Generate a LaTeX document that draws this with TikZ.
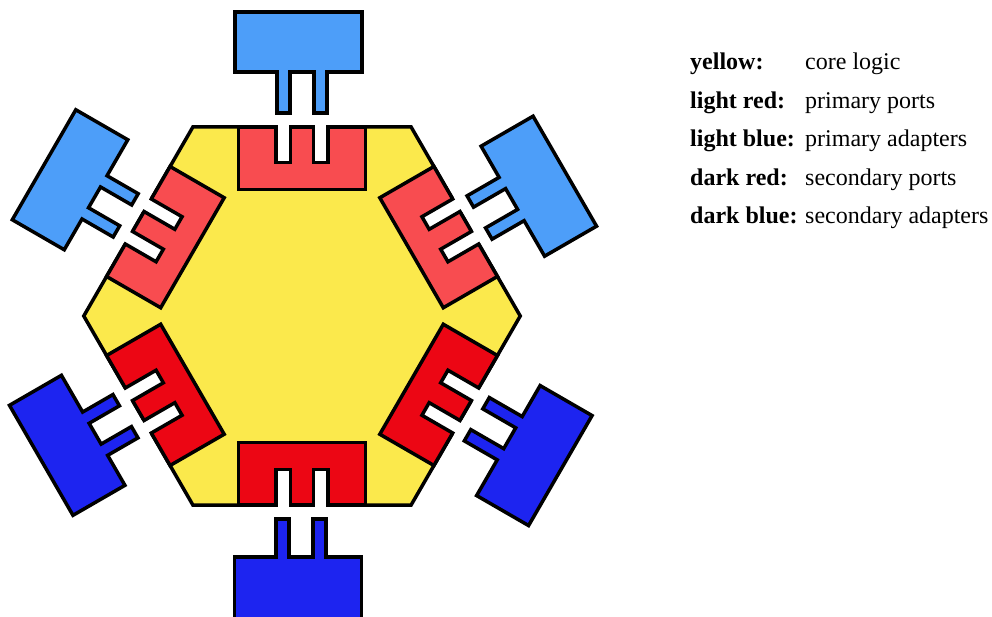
\documentclass[tikz,border=0pt]{standalone}
\usepackage{fontspec}
\usetikzlibrary{calc}
\setmainfont{Liberation Serif}
\definecolor{coreyellow}{RGB}{251,233,76}
\definecolor{lred}{RGB}{248,76,80}
\definecolor{dred}{RGB}{236,6,20}
\definecolor{lblue}{RGB}{77,158,249}
\definecolor{dblue}{RGB}{29,36,240}
\tikzset{
  outline/.style={draw=black, line width=3.5pt, line join=miter},
  labtxt/.style={anchor=base west, inner sep=0pt, font=\fontsize{24}{29}\selectfont\bfseries},
  valtxt/.style={anchor=base west, inner sep=0pt, font=\fontsize{24}{29}\selectfont},
}
\begin{document}
\begin{tikzpicture}[x=1pt,y=1pt]
\useasboundingbox (0,-617) rectangle (992,0);
% core hexagon
\coordinate (c) at (302,-316);
\draw[outline, fill=coreyellow] ($(c)+(0:218.24)$) -- ($(c)+(60:218.24)$) -- ($(c)+(120:218.24)$)
  -- ($(c)+(180:218.24)$) -- ($(c)+(240:218.24)$) -- ($(c)+(300:218.24)$) -- cycle;
% ports and adapters
\foreach \rot/\pc/\ac/\s/\c/\va/\vb in {
   0/lred/lblue/-3.7/0/244/304,
   -60/lred/lblue/6/3.5/240/300,
   -120/dred/dblue/4.7/2/241/301,
   180/dred/dblue/4/1.2/241/306,
   120/dred/dblue/5.4/1.5/238/298,
   60/lred/lblue/2/-1/239/299}{
  \begin{scope}[shift={(302,-316)}, rotate=\rot]
    \fill[white] (-26,153.5) rectangle (-11.5,192);
    \fill[white] (11.5,153.5) rectangle (26,192);
    \draw[outline, fill=\pc] (-63.5,189) -- (-26,189) -- (-26,153.5) -- (-11.5,153.5) -- (-11.5,189)
      -- (11.5,189) -- (11.5,153.5) -- (26,153.5) -- (26,189) -- (63.5,189)
      -- (63.5,126.5) -- (-63.5,126.5) -- cycle;
    \draw[outline, fill=\ac] ({\s-63.5},\va) -- ({\c-25},\va) -- ({\c-25},203) -- ({\c-12},203)
      -- ({\c-12},\va) -- ({\c+12},\va) -- ({\c+12},203) -- ({\c+25},203) -- ({\c+25},\va)
      -- ({\s+63.5},\va) -- ({\s+63.5},\vb) -- ({\s-63.5},\vb) -- cycle;
  \end{scope}
}
% legend
\node[labtxt] (k1) at (690,-70) {yellow:};
\node[valtxt] (t1) at (805,-70) {core logic};
\node[labtxt] (k2) at (690,-108.5) {light red:};
\node[valtxt] (t2) at (805,-108.5) {primary ports};
\node[labtxt] (k3) at (690,-147) {light blue:};
\node[valtxt] (t3) at (805,-147) {primary adapters};
\node[labtxt] (k4) at (690,-185.5) {dark red:};
\node[valtxt] (t4) at (805,-185.5) {secondary ports};
\node[labtxt] (k5) at (690,-224) {dark blue:};
\node[valtxt] (t5) at (805,-224) {secondary adapters};
\end{tikzpicture}
\end{document}
